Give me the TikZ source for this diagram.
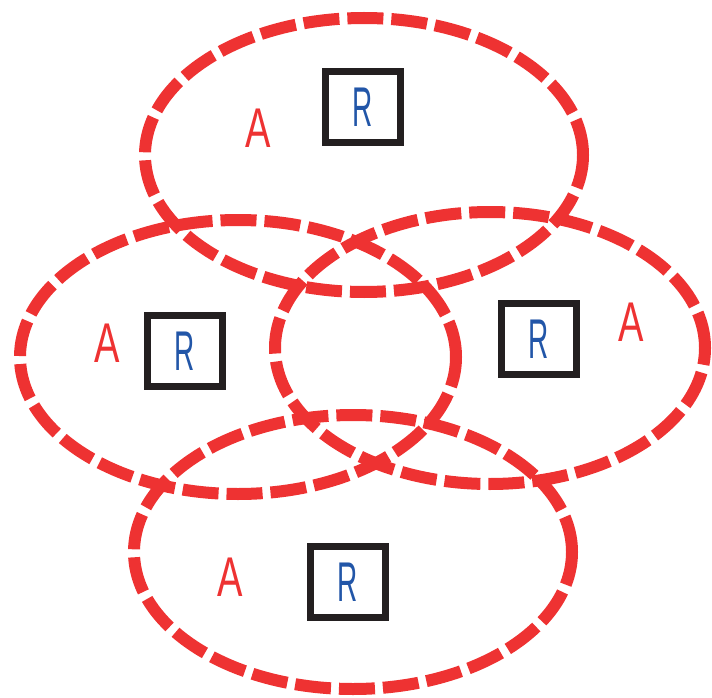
\documentclass[tikz,border=0pt]{standalone}
\usepackage{fontspec}
\setmainfont{Liberation Sans}
\usetikzlibrary{shapes.geometric}
\definecolor{rred}{HTML}{EE3232}
\definecolor{rblue}{HTML}{2256A8}
\definecolor{rblack}{HTML}{231F20}
\tikzset{
  setring/.style={ellipse, draw=rred, line width=12pt, dash pattern=on 36pt off 8pt, inner sep=0pt, minimum width=#1},
  rbox/.style={draw=rblack, line width=7.5pt, minimum width=75pt, minimum height=71pt, inner sep=0pt, fill=white, text=rblue, font=\fontsize{56}{56}\selectfont},
  alabel/.style={text=rred, font=\fontsize{56}{56}\selectfont, inner sep=0pt}
}
\newcommand{\letR}{\scalebox{0.5}[1]{R}}
\newcommand{\letA}{\scalebox{0.68}[1]{A}}
\begin{document}
\begin{tikzpicture}[x=1pt,y=-1pt]
\useasboundingbox (0,0) rectangle (712,698);
% boxes
\node[rbox] (r1) at (363,107) {\letR};
\node[rbox] (r2) at (185,351) {\letR};
\node[rbox] (r3) at (539,339) {\letR};
\node[rbox] (r4) at (348,582) {\letR};
% labels
\node[alabel] (a1) at (258,128) {\letA};
\node[alabel] (a2) at (107,343) {\letA};
\node[alabel] (a3) at (631,322) {\letA};
\node[alabel] (a4) at (230,577) {\letA};
% rings
\node[setring=438pt, minimum height=274pt] (e1) at (364,155) {};
\node[setring=436pt, minimum height=274pt] (e2) at (238,357) {};
\node[setring=430pt, minimum height=272pt] (e3) at (490,348) {};
\node[setring=438pt, minimum height=274pt] (e4) at (353,552) {};
\end{tikzpicture}
\end{document}
